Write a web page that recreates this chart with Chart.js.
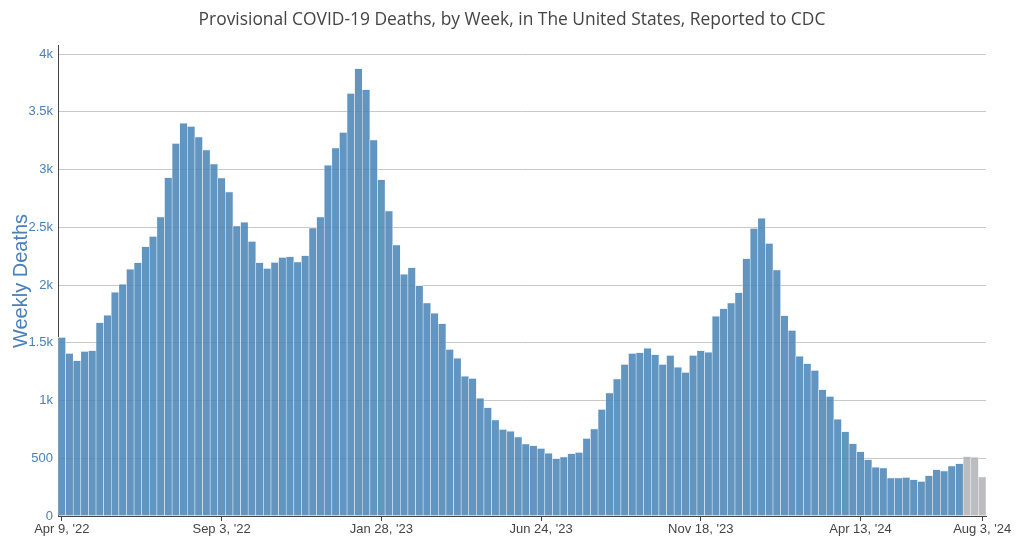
<!DOCTYPE html>
<html>
<head>
<meta charset="utf-8">
<script src="https://cdn.jsdelivr.net/npm/chart.js@4.4.1/dist/chart.umd.min.js"></script>
<style>
  html, body { margin: 0; padding: 0; background: #fff; }
  #wrap { width: 1024px; height: 540px; position: relative; }
</style>
</head>
<body>
<div id="wrap"><canvas id="c" width="1024" height="540"></canvas></div>
<script>
// ---- data ----
const firstWeek = '2022-04-09';
const reportedDeaths = [
  1550, 1410, 1348, 1428, 1434, 1677, 1742, 1942, 2010, 2141,
  2196, 2335, 2423, 2592, 2932, 3230, 3405, 3376, 3286, 3172,
  3052, 2930, 2810, 2514, 2548, 2380, 2196, 2147, 2199, 2243,
  2249, 2202, 2257, 2497, 2593, 3040, 3191, 3324, 3662, 3876,
  3694, 3260, 2916, 2645, 2350, 2098, 2153, 1997, 1847, 1760,
  1668, 1445, 1370, 1214, 1194, 1023, 942, 835, 752, 737,
  688, 627, 612, 589, 546, 500, 514, 543, 554, 675,
  756, 925, 1069, 1190, 1316, 1411, 1417, 1457, 1399, 1316,
  1394, 1291, 1247, 1393, 1434, 1422, 1734, 1798, 1847, 1936,
  2231, 2494, 2581, 2364, 2133, 1737, 1610, 1387, 1321, 1263,
  1097, 1038, 841, 734, 630, 561, 491, 425, 419, 332,
  332, 338, 318, 303, 353, 405, 393, 436, 457
];
const incompleteDeaths = [517, 512, 341];
const tickLabels = ["Apr 9, '22", "Sep 3, '22", "Jan 28, '23", "Jun 24, '23", "Nov 18, '23", "Apr 13, '24", "Aug 3, '24"];
const yTickValues = [0, 500, 1000, 1500, 2000, 2500, 3000, 3500, 4000];
const yTickText = ['0', '500', '1k', '1.5k', '2k', '2.5k', '3k', '3.5k', '4k'];

// ---- build ----
const values = reportedDeaths.concat(incompleteDeaths);
const months = ['Jan','Feb','Mar','Apr','May','Jun','Jul','Aug','Sep','Oct','Nov','Dec'];
const start = new Date(firstWeek + 'T00:00:00Z');
const categories = values.map((_, i) => {
  const d = new Date(start.getTime() + i * 7 * 86400000);
  return months[d.getUTCMonth()] + ' ' + d.getUTCDate() + ", '" + String(d.getUTCFullYear()).slice(2);
});
const colors = values.map((_, i) => i < reportedDeaths.length ? 'rgba(70,130,180,0.85)' : 'rgba(178,178,180,0.85)');

new Chart(document.getElementById('c'), {
  type: 'bar',
  data: {
    labels: categories,
    datasets: [{
      data: values,
      backgroundColor: colors,
      borderColor: 'rgba(235,242,250,0.85)',
      borderWidth: { top: 1, left: 0.6, right: 0.6, bottom: 0 },
      borderSkipped: false,
      categoryPercentage: 1,
      barPercentage: 1
    }]
  },
  options: {
    responsive: false,
    animation: false,
    layout: { padding: { left: 19, right: 19, top: 0, bottom: 0 } },
    plugins: {
      legend: { display: false },
      tooltip: { enabled: false },
      title: {
        display: true,
        text: 'Provisional COVID-19 Deaths, by Week, in The United States, Reported to CDC',
        color: '#444',
        font: { family: 'Open Sans', size: 17.4, weight: 'normal' },
        padding: { top: 10, bottom: 15.1 }
      }
    },
    scales: {
      x: {
        grid: {
          offset: false,
          drawOnChartArea: false,
          drawTicks: true,
          tickLength: 5,
          color: (ctx) => (ctx.tick && tickLabels.includes(categories[ctx.index])) ? '#444' : 'rgba(0,0,0,0)'
        },
        border: { display: true, color: '#444', width: 1 },
        ticks: {
          autoSkip: false,
          maxRotation: 0,
          minRotation: 0,
          padding: 1,
          color: '#444',
          font: { family: 'Liberation Sans', size: 13 },
          callback: (v, i) => tickLabels.includes(categories[i]) ? categories[i] : ''
        },
        afterFit: (s) => { s.height = 24; s.paddingRight = 38; }
      },
      y: {
        min: 0,
        max: 4070,
        afterBuildTicks: (s) => { s.ticks = yTickValues.map(v => ({ value: v })); },
        grid: { color: '#c8c8c8', lineWidth: 1, drawTicks: false },
        border: { display: true, color: '#444', width: 1 },
        ticks: {
          padding: 5,
          color: '#4a80b8',
          font: { family: 'Liberation Sans', size: 13 },
          callback: (v) => { const k = yTickValues.indexOf(v); return k >= 0 ? yTickText[k] : ''; }
        },
        title: {
          display: true,
          text: 'Weekly Deaths',
          color: '#4a80b8',
          font: { family: 'Liberation Sans', size: 20 },
          padding: { top: -10, bottom: 0 }
        },
        afterFit: (s) => { s.width = 39; }
      }
    }
  }
});
</script>
</body>
</html>
